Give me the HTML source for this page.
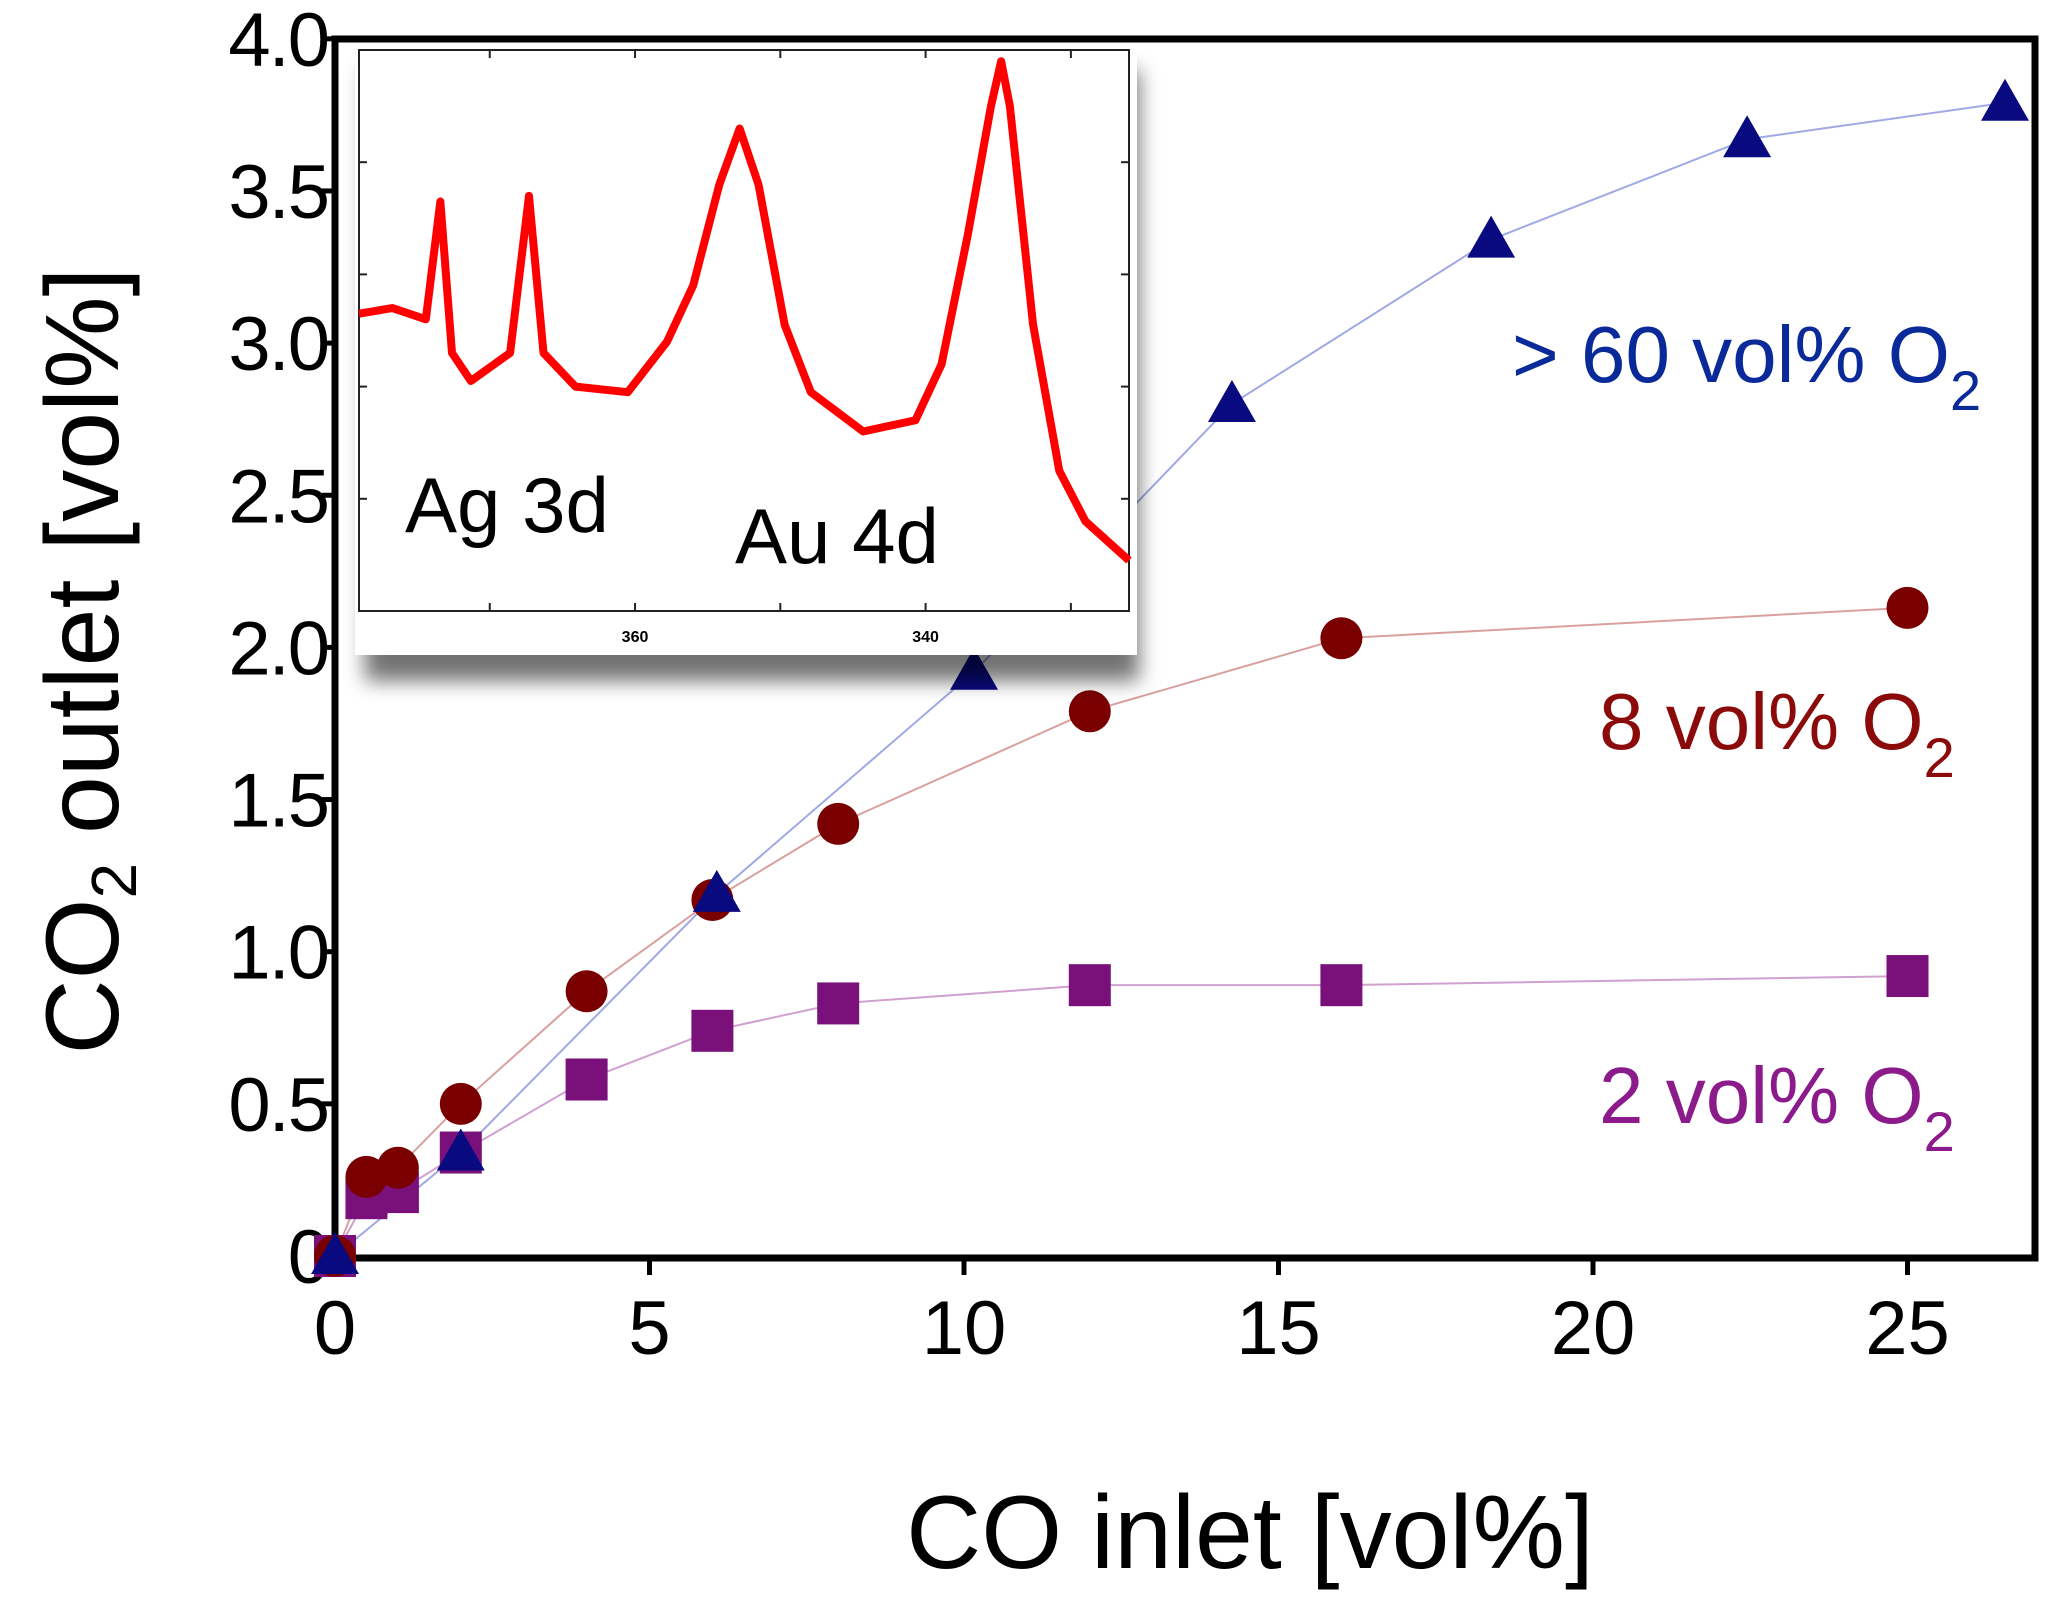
<!DOCTYPE html>
<html><head><meta charset="utf-8"><style>
html,body{margin:0;padding:0;background:#fff;}
svg{display:block;font-family:"Liberation Sans",sans-serif;}
</style></head><body>
<svg id="chart" width="2052" height="1599" viewBox="0 0 2052 1599" xmlns="http://www.w3.org/2000/svg">
<defs>
<filter id="sh" x="-10%" y="-10%" width="130%" height="130%"><feGaussianBlur stdDeviation="10"/></filter>
</defs>
<g id="plot"></g>
</svg>
<script>
const xTicks=[0,5,10,15,20,25];
const yTicks=[0,0.5,1.0,1.5,2.0,2.5,3.0,3.5,4.0];
const yTickLabels=["0","0.5","1.0","1.5","2.0","2.5","3.0","3.5","4.0"];
const triX=[0,2.0,6.07,10.16,14.26,18.38,22.45,26.55];
const triY=[0,0.34,1.19,1.92,2.80,3.34,3.67,3.79];
const circX=[0,0.5,1,2,4,6,8,12,16,25];
const circY=[0,0.26,0.29,0.50,0.87,1.17,1.42,1.79,2.03,2.13];
const sqX=[0,0.5,1,2,4,6,8,12,16,25];
const sqY=[0,0.19,0.21,0.34,0.58,0.74,0.83,0.89,0.89,0.92];
const insetE=[379,376.7,374.4,373.4,372.6,371.3,368.6,367.3,366.3,364.1,360.5,357.8,356,354.2,352.8,351.5,349.7,347.9,344.3,340.7,338.9,337.1,335.5,334.8,334.2,332.6,330.8,329,326];
const insetI=[53,54,52,73,46,41,46,74,46,40,39,48,58,76,86,76,51,39,32,34,44,67,90,98,90,51,25,16,9];
const insetTicks=[360,340];

const NS="http://www.w3.org/2000/svg";
const g=document.getElementById('plot');
const X0=335,XS=62.9,Y0=1256,YS=304.3;
const sx=v=>X0+v*XS, sy=v=>Y0-v*YS;
function mk(tag,attrs,parent){const e=document.createElementNS(NS,tag);for(const k in attrs)e.setAttribute(k,attrs[k]);(parent||g).appendChild(e);return e;}

// axes frame
let fr=mk('rect',{x:335,y:39,width:1700,height:1219,fill:'none',stroke:'#000','stroke-width':7});



// y ticks
yTicks.forEach((v,i)=>{
  let t=mk('line',{x1:322,x2:335,y1:sy(v),y2:sy(v),stroke:'#000','stroke-width':5});
  
  
  let l=mk('text',{x:328,y:sy(v)+27,'text-anchor':'end','font-size':76,fill:'#000','letter-spacing':'-2'});
  l.textContent=yTickLabels[i];
  
  
});
xTicks.forEach(v=>{
  let t=mk('line',{x1:sx(v),x2:sx(v),y1:1258,y2:1275,stroke:'#000','stroke-width':5});
  
  
  let l=mk('text',{x:sx(v),y:1354,'text-anchor':'middle','font-size':76,fill:'#000'});
  l.textContent=String(v);
  
  
});

// titles
let yt=mk('text',{x:0,y:0,transform:'translate(118,661) rotate(-90)','text-anchor':'middle','font-size':104,fill:'#000'});
yt.innerHTML='CO<tspan font-size="64" dy="18">2</tspan><tspan dy="-18"> outlet [vol%]</tspan>';


let xt=mk('text',{x:1250,y:1568,'text-anchor':'middle','font-size':104,fill:'#000'});
xt.textContent='CO inlet [vol%]';



// series
function line(xs,ys,col,name){
  let p=mk('polyline',{points:xs.map((x,i)=>sx(x)+','+sy(ys[i])).join(' '),fill:'none',stroke:col,'stroke-width':2,opacity:0.6});
  
  
}
line(sqX,sqY,'#b060b0','line-2-vol-o2');
line(circX,circY,'#c06060','line-8-vol-o2');
line(triX,triY,'#6070d0','line-60-vol-o2');
sqX.forEach((x,i)=>{
  let m=mk('rect',{x:sx(x)-21,y:sy(sqY[i])-21,width:42,height:42,fill:'#7a117a'});
  
  
});
circX.forEach((x,i)=>{
  let m=mk('circle',{cx:sx(x),cy:sy(circY[i]),r:21,fill:'#7a0000'});
  
  
});
triX.forEach((x,i)=>{
  const cx=sx(x),cy=sy(triY[i]);
  let m=mk('polygon',{points:`${cx},${cy-24} ${cx-24},${cy+18} ${cx+24},${cy+18}`,fill:'#0a0a80'});
  
  
});

// annotations
function ann(x,y,col,txt,name){
  let t=mk('text',{x:x,y:y,'font-size':80,fill:col});
  t.innerHTML=txt+' O<tspan font-size="56" dy="28">2</tspan>';
  
  
}
ann(1512,382,'#0a2a9a','&gt; 60 vol%','label-60-vol-o2');
ann(1599,749,'#8b0a0a','8 vol%','label-8-vol-o2');
ann(1599,1123,'#8b1a8b','2 vol%','label-2-vol-o2');

// inset
const IL=359,IT=50,IR=1129,IB=611;
mk('rect',{x:IL+6,y:IT+20,width:IR-IL+4,height:IB-IT+50,fill:'#000',opacity:0.55,filter:'url(#sh)'});
let ibg=mk('rect',{x:IL-4,y:IT-4,width:IR-IL+12,height:IB-IT+48,fill:'#fff'});


let ib=mk('rect',{x:IL,y:IT,width:IR-IL,height:IB-IT,fill:'none',stroke:'#222','stroke-width':2});


const ex=e=>IL+(379-e)/53*(IR-IL), iy=v=>IB-v/100*(IB-IT);
insetTicks.forEach(e=>{
  let l=mk('text',{x:ex(e),y:642,'text-anchor':'middle','font-size':16,fill:'#000','font-weight':'bold'});
  l.textContent=String(e);
  
  
});
[370,360,350,340,330].forEach(e=>{mk('line',{x1:ex(e),x2:ex(e),y1:IB,y2:IB-8,stroke:'#222','stroke-width':2});mk('line',{x1:ex(e),x2:ex(e),y1:IT,y2:IT+8,stroke:'#222','stroke-width':2});});
for(let k=1;k<5;k++){const y=IT+k*(IB-IT)/5;mk('line',{x1:IL,x2:IL+8,y1:y,y2:y,stroke:'#222','stroke-width':2});mk('line',{x1:IR,x2:IR-8,y1:y,y2:y,stroke:'#222','stroke-width':2});}
let sp=mk('polyline',{points:insetE.map((e,i)=>ex(e)+','+iy(insetI[i])).join(' '),fill:'none',stroke:'#ff0000','stroke-width':8,'stroke-linejoin':'round'});


let a1=mk('text',{x:405,y:532,'font-size':78,fill:'#000'});a1.textContent='Ag 3d';


let a2=mk('text',{x:735,y:563,'font-size':78,fill:'#000'});a2.textContent='Au 4d';


</script>
</body></html>
